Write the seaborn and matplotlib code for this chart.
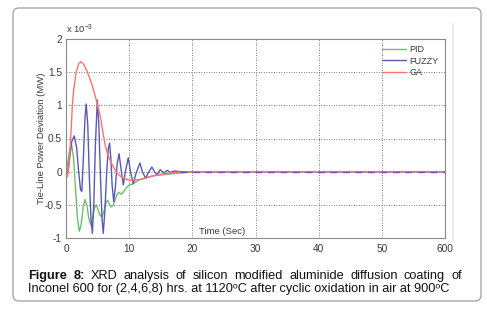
import numpy as np
import pandas as pd
import seaborn as sns
import matplotlib
matplotlib.use("Agg")
import matplotlib.pyplot as plt
from matplotlib.patches import FancyBboxPatch
from matplotlib.lines import Line2D
from matplotlib.transforms import IdentityTransform

# ---------------- data (values in units of 1e-3 MW) ----------------
pid_t = [0, 0.3, 0.6, 0.9, 1.2, 1.5, 1.8, 2.1, 2.4, 2.7, 3.0, 3.3, 3.6, 3.9, 4.2,
         4.5, 4.8, 5.1, 5.4, 5.7, 6.0, 6.3, 6.6, 6.9, 7.2, 7.5, 7.8, 8.1, 8.4,
         8.7, 9.0, 9.5, 10.0, 10.5, 11.0, 11.5, 12.0, 12.5, 13.0, 14.0, 15.0,
         16.0, 17.0, 18.0, 19.0, 20.0, 22.0, 60.0]
pid_v = [0, 0.15, 0.35, 0.4, 0.2, -0.25, -0.7, -0.9, -0.8, -0.55, -0.42, -0.5,
         -0.7, -0.8, -0.7, -0.55, -0.5, -0.58, -0.66, -0.68, -0.6, -0.47, -0.43,
         -0.5, -0.53, -0.5, -0.42, -0.34, -0.31, -0.34, -0.32, -0.25, -0.2,
         -0.19, -0.16, -0.13, -0.11, -0.1, -0.08, -0.06, -0.05, -0.04, -0.03,
         -0.02, -0.01, -0.01, 0.0, 0.0]

fuzzy_t = [0, 0.2, 0.5, 0.9, 1.3, 1.7, 2.0, 2.3, 2.5, 2.75, 3.0, 3.2, 3.45, 3.7,
           3.95, 4.17, 4.4, 4.65, 4.96, 5.2, 5.5, 5.7, 5.9, 6.15, 6.45, 6.7, 6.9,
           7.1, 7.3, 7.55, 7.8, 8.1, 8.4, 8.7, 9.07, 9.4, 9.86, 10.2, 10.65,
           11.1, 11.7, 12.1, 12.6, 13.0, 13.6, 14.0, 14.4, 14.9, 15.5, 16.0,
           16.5, 17.2, 18.0, 60.0]
fuzzy_v = [0, -0.05, 0.15, 0.45, 0.54, 0.35, 0.0, -0.27, -0.3, 0.2, 0.8, 1.02,
           0.7, -0.1, -0.7, -0.93, -0.5, 0.4, 1.08, 0.7, -0.2, -0.7, -0.93, -0.6,
           0.0, 0.35, 0.43, 0.2, -0.2, -0.45, -0.25, 0.12, 0.27, 0.05, -0.2, 0.0,
           0.21, 0.0, -0.18, -0.02, 0.13, 0.0, -0.1, -0.02, 0.07, 0.0, -0.05,
           0.03, -0.02, 0.02, -0.01, 0.01, 0.0, 0.0]

ga_t = [0, 0.2, 0.5, 0.8, 1.0, 1.2, 1.6, 2.0, 2.3, 2.8, 3.3, 3.8, 4.2, 4.6, 5.0,
        5.4, 5.8, 6.2, 6.6, 7.0, 7.5, 8.0, 8.5, 9.0, 9.5, 10.0, 10.6, 11.5,
        12.5, 13.5, 15.0, 16.5, 18.0, 20.0, 60.0]
ga_v = [0, -0.08, 0.1, 0.6, 1.0, 1.22, 1.5, 1.62, 1.66, 1.62, 1.52, 1.4, 1.28,
        1.15, 1.0, 0.85, 0.62, 0.4, 0.26, 0.17, 0.07, -0.01, -0.06, -0.09,
        -0.11, -0.13, -0.13, -0.12, -0.1, -0.07, -0.04, -0.02, -0.01, 0.0, 0.0]

x_ticks = [0, 10, 20, 30, 40, 50, 60]
x_tick_labels = ["0", "10", "20", "30", "40", "50", "600"]
y_ticks = [-1, -0.5, 0, 0.5, 1, 1.5, 2]
y_tick_labels = ["-1", "-0.5", "0", "0.5", "1", "1.5", "2"]

caption_line1 = "Figure 8: XRD analysis of silicon modified aluminide diffusion coating of"
caption_line2 = "Inconel 600 for (2,4,6,8) hrs. at 1120ᵒC after cyclic oxidation in air at 900ᵒC"

# ---------------- style ----------------
sns.set_style("white")
plt.rcParams["font.family"] = ["Liberation Sans", "DejaVu Sans"]
plt.rcParams["mathtext.fontset"] = "custom"
plt.rcParams["mathtext.rm"] = "Liberation Sans"
plt.rcParams["mathtext.default"] = "regular"

W, H = 487, 310
fig = plt.figure(figsize=(W / 100, H / 100), dpi=100)
fig.patch.set_facecolor("white")

# outer rounded frame
frame = FancyBboxPatch((13, 9), 468, 293, boxstyle="round,pad=0,rounding_size=6",
                       transform=IdentityTransform(), fill=False,
                       edgecolor="#a8a8a8", linewidth=1.0)
fig.patches.append(frame)
fig.lines.append(Line2D([453, 453], [310 - 242, 310 - 24], transform=IdentityTransform(),
                        color="#ebebeb", linewidth=1.5))

ax_l, ax_r, ax_t, ax_b = 66, 445, 39, 238
ax = fig.add_axes([ax_l / W, 1 - ax_b / H, (ax_r - ax_l) / W, (ax_b - ax_t) / H])

col_pid, col_fuzzy, col_ga = "#6cc06c", "#5a5ab4", "#ff7272"
lw = 1.0
sns.lineplot(x=pid_t, y=pid_v, ax=ax, color=col_pid, lw=lw, label="PID", sort=False)
sns.lineplot(x=fuzzy_t, y=fuzzy_v, ax=ax, color=col_fuzzy, lw=lw, label="FUZZY", sort=False)
sns.lineplot(x=ga_t, y=ga_v, ax=ax, color=col_ga, lw=lw, label="GA", sort=False)
# overlapping tail rendering (FUZZY tail shows through as dashes)
tail_t = [t for t in fuzzy_t if t >= 18]
tail_v = [v for t, v in zip(fuzzy_t, fuzzy_v) if t >= 18]
ax.plot(tail_t, tail_v, color="#7a4ac0", lw=1.0, dashes=(5, 4))

ax.set_xlim(0, 60)
ax.set_ylim(-1, 2)
ax.set_xticks(x_ticks)
ax.set_xticklabels(x_tick_labels)
ax.set_yticks(y_ticks)
ax.set_yticklabels(y_tick_labels)
ax.tick_params(axis="both", direction="in", length=3, width=0.6, color="#808080",
               labelsize=7.3, labelcolor="#3a3a3a", pad=3)
ax.tick_params(axis="x", pad=4)
for s in ax.spines.values():
    s.set_color("#8a8a8a")
    s.set_linewidth(0.8)
ax.grid(True, color="#555555", linestyle=(0, (1, 2)), linewidth=0.6)
ax.set_axisbelow(True)

ax.set_ylabel("Tie-Line Power Deviation (MW)", fontsize=6.8, color="#3a3a3a", labelpad=2)
ax.yaxis.set_label_coords(-0.052, 0.5)
ax.set_xlabel("Time (Sec)", fontsize=6.8, color="#3a3a3a", va="center")
ax.xaxis.set_label_coords((222 - ax_l) / (ax_r - ax_l), (ax_b - 231) / (ax_b - ax_t))

ax.text(0.0, 1.015, r"x 10$^{-3}$", transform=ax.transAxes, fontsize=6.8,
        color="#3a3a3a", ha="left", va="bottom")

leg = ax.legend(loc="upper right", frameon=False, fontsize=6.5, handlelength=2.6,
                handletextpad=0.4, labelspacing=0.25, borderaxespad=0.3,
                labelcolor="#3a3a3a")

# ---------------- caption ----------------
fig.canvas.draw()
renderer = fig.canvas.get_renderer()

# fit font size so line 2 spans 28..452 px
probe = fig.text(0, 0, caption_line2, fontsize=10)
w10 = probe.get_window_extent(renderer).width
probe.remove()
fs = 10 * (452 - 28) / w10

x0, x1 = 28, 462
base1 = H - 279
base2 = H - 292
words = caption_line1.split(" ")
objs = []
for i, wd in enumerate(words):
    bold = i < 2
    t = fig.text(0, base1 / H, wd, fontsize=fs, fontweight="bold" if bold else "normal",
                 ha="left", va="baseline", color="#111111")
    objs.append(t)
widths = [o.get_window_extent(renderer).width for o in objs]
gap = (x1 - x0 - sum(widths)) / (len(words) - 1)
xp = x0
for o, wdt in zip(objs, widths):
    o.set_x(xp / W)
    xp += wdt + gap
fig.text(x0 / W, base2 / H, caption_line2, fontsize=fs, ha="left", va="baseline",
         color="#111111")

fig.savefig("out.png", dpi=100, facecolor="white")
